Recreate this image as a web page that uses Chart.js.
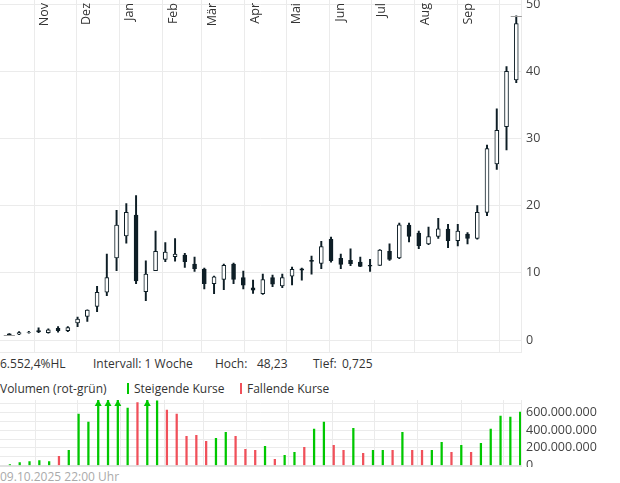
<!DOCTYPE html>
<html>
<head>
<meta charset="utf-8">
<script src="https://cdn.jsdelivr.net/npm/chart.js@4.4.1/dist/chart.umd.min.js"></script>
<style>
  body { margin: 0; width: 620px; height: 483px; overflow: hidden; background: #fff;
         font-family: "Open Sans", sans-serif; font-size: 12px; color: #333; position: relative; }
  #priceBox { position: absolute; left: 0; top: 0; width: 620px; height: 354px; }
  #volBox { position: absolute; left: 0; top: 398px; width: 620px; height: 69px; }
  .txt { position: absolute; white-space: nowrap; line-height: 16px; }
  .mark { position: absolute; width: 2px; height: 11px; }
</style>
</head>
<body>
<div id="priceBox"><canvas id="priceChart"></canvas></div>

<div class="txt" id="hlText" style="left:0;top:356px"></div>
<div class="txt" style="left:93px;top:356px">Intervall: 1 Woche</div>
<div class="txt" style="left:215px;top:356px">Hoch:</div>
<div class="txt" id="hochText" style="left:257px;top:356px"></div>
<div class="txt" style="left:313px;top:356px">Tief:</div>
<div class="txt" id="tiefText" style="left:342px;top:356px"></div>

<div class="txt" style="left:0;top:381px">Volumen (rot-grün)</div>
<div class="mark" style="left:127px;top:383px;background:#00c800"></div>
<div class="txt" style="left:134px;top:381px">Steigende Kurse</div>
<div class="mark" style="left:240px;top:383px;background:#f0505a"></div>
<div class="txt" style="left:247px;top:381px">Fallende Kurse</div>

<div id="volBox"><canvas id="volChart"></canvas></div>
<div class="txt" style="left:0;top:469px;color:#aaa">09.10.2025 22:00 Uhr</div>

<script>
// Wochenkerzen, erste Kerze = Woche ab 14.10.2024
const firstWeek = "2024-10-14";
const opens = [0.9, 0.85, 1.14, 1.4, 1.1, 1.75, 1.4, 2.55, 3.5, 5.0, 7.1, 12.2, 15.5, 18.6, 7.2, 10.3,
  12.0, 12.4, 12.65, 11.3, 10.55, 8.4, 9.0, 11.3, 9.3, 7.75, 6.9, 9.3, 8.05, 9.5, 10.6, 11.85,
  11.4, 15.0, 12.15, 11.85, 11.6, 11.1, 11.1, 13.2, 12.2, 17.1, 15.9, 14.3, 15.4, 16.5, 14.8,
  15.75, 15.1, 19.0, 26.2, 31.75, 38.7];
const highs = [0.95, 1.25, 1.3, 1.8, 1.65, 1.98, 2.0, 3.4, 4.5, 8.0, 12.8, 19.3, 20.3, 21.5, 11.8, 16.2,
  14.5, 15.1, 12.9, 12.35, 10.7, 9.5, 11.3, 11.45, 10.25, 8.9, 9.8, 9.65, 9.8, 10.85, 10.7, 12.5,
  14.7, 15.3, 12.8, 13.55, 12.35, 12.0, 13.45, 14.3, 17.4, 17.4, 16.2, 16.8, 18.1, 17.2, 17.2,
  16.0, 20.0, 29.0, 34.4, 40.7, 48.23];
const lows = [0.725, 0.8, 1.0, 1.1, 1.0, 1.15, 1.25, 2.0, 2.75, 4.2, 6.6, 10.3, 14.4, 8.4, 5.85, 10.3,
  11.65, 11.75, 10.8, 10.2, 7.6, 6.9, 7.5, 8.4, 7.6, 6.95, 6.8, 7.95, 7.8, 8.2, 8.9, 9.8,
  10.6, 11.6, 10.6, 11.05, 10.9, 10.2, 11.1, 11.85, 12.1, 14.6, 13.6, 14.2, 15.1, 13.75, 14.0,
  14.3, 15.0, 18.5, 25.4, 28.3, 38.3];
const closes = [0.75, 1.1, 1.16, 1.2, 1.5, 1.4, 1.85, 3.1, 4.45, 7.1, 9.3, 17.1, 19.0, 8.8, 9.8, 13.2,
  13.1, 12.8, 11.65, 10.6, 8.4, 9.4, 11.1, 9.0, 8.15, 7.4, 9.0, 8.3, 9.3, 10.5, 10.4, 11.7,
  13.9, 11.8, 11.25, 11.35, 10.95, 11.0, 13.4, 12.0, 17.15, 15.4, 14.05, 15.4, 16.55, 14.8, 16.2,
  15.1, 19.0, 28.5, 31.2, 40.0, 47.1];
// Volumen in Mio. Stück
const volumeMio = [11, 34, 46, 57, 46, 103, 172, 585, 493, 900, 1000, 950, 654, 715, 880, 735,
  631, 585, 333, 344, 275, 310, 378, 333, 183, 172, 218, 69, 115, 149, 206, 413,
  493, 229, 172, 424, 138, 172, 172, 172, 378, 172, 172, 172, 264, 149, 229,
  149, 252, 413, 562, 550, 608];

const monthStarts = ["2024-11-01", "2024-12-01", "2025-01-01", "2025-02-01", "2025-03-01", "2025-04-01",
  "2025-05-01", "2025-06-01", "2025-07-01", "2025-08-01", "2025-09-01", "2025-10-01"];
const monthLabels = ["Nov", "Dez", "Jan", "Feb", "Mär", "Apr", "Mai", "Jun", "Jul", "Aug", "Sep", ""];
const priceTicks = [0, 10, 20, 30, 40, 50];
const volumeTicks = [0, 100, 200, 300, 400, 500, 600, 700];

const GREEN = "#00c800";
const RED = "#f0505a";
const INK = "#0e1e26";
const GRID = "#ebebeb";

function dayOf(d) {
  return (Date.parse(d) - Date.parse(firstWeek)) / 864e5;
}
function deNum(v, digits) {
  const parts = v.toFixed(digits).split(".");
  parts[0] = parts[0].replace(/\B(?=(\d{3})+(?!\d))/g, ".");
  return parts.join(",");
}

const weekX = opens.map((_, i) => i * 7);
const hoch = Math.max(...highs);
const tief = Math.min(...lows);
document.getElementById("hochText").textContent = deNum(hoch, 2);
document.getElementById("tiefText").textContent = deNum(tief, 3);
document.getElementById("hlText").textContent = deNum((hoch / tief - 1) * 100, 1) + "%HL";

Chart.defaults.font.family = '"Open Sans", sans-serif';
Chart.defaults.font.size = 12.5;
Chart.defaults.color = "#333";
Chart.defaults.animation = false;

const monthGrid = (scale) => {
  scale.ticks = monthStarts.map((d) => ({ value: dayOf(d) }));
};
// rechte Achse: feste Breite, keine Zusatzränder für Beschriftungen
const fixRightAxis = (s) => {
  s.width = 99;
  s.paddingTop = 0;
  s.paddingBottom = 0;
};
const flatXAxis = (s) => {
  s.height = 0;
  s.paddingLeft = 0;
  s.paddingRight = 0;
};

// Monatsnamen senkrecht oben rechts neben der Gitterlinie
const monthLabelPlugin = {
  id: "monthLabels",
  beforeDatasetsDraw(chart) {
    const c = chart.ctx;
    const xs = chart.scales.x;
    c.save();
    c.font = '12.5px "Open Sans", sans-serif';
    c.fillStyle = "#333";
    c.textAlign = "right";
    c.textBaseline = "alphabetic";
    monthStarts.forEach((d, i) => {
      if (!monthLabels[i]) return;
      const px = xs.getPixelForValue(dayOf(d));
      c.save();
      c.translate(px + 14, chart.chartArea.top + 3);
      c.rotate(-Math.PI / 2);
      c.fillText(monthLabels[i], 0, 0);
      c.restore();
    });
    c.restore();
  },
  afterDatasetsDraw(chart) {
    // Markierung Hoch / Tief
    const c = chart.ctx;
    const xs = chart.scales.x, ys = chart.scales.y;
    const iH = highs.indexOf(hoch), iL = lows.indexOf(tief);
    c.save();
    c.strokeStyle = "#9a9a9a";
    c.lineWidth = 1;
    [[iH, hoch], [iL, tief]].forEach(([i, v]) => {
      const y = Math.round(ys.getPixelForValue(v)) + 0.5;
      c.beginPath();
      c.moveTo(xs.getPixelForValue(weekX[i] - 4), y);
      c.lineTo(xs.getPixelForValue(weekX[i] + 4), y);
      c.stroke();
    });
    c.restore();
  },
};

new Chart(document.getElementById("priceChart"), {
  type: "bar",
  data: {
    datasets: [
      {
        label: "Körper",
        data: weekX.map((x, i) => ({ x, y: [opens[i], closes[i]] })),
        backgroundColor: (ctx) => (closes[ctx.dataIndex] >= opens[ctx.dataIndex] ? "#fff" : INK),
        borderColor: INK,
        borderWidth: 1,
        borderSkipped: false,
        barThickness: 4,
        grouped: false,
        order: 0,
      },
      {
        label: "Docht",
        data: weekX.map((x, i) => ({ x, y: [lows[i], highs[i]] })),
        backgroundColor: INK,
        borderWidth: 0,
        barThickness: 1.3,
        grouped: false,
        order: 1,
      },
    ],
  },
  options: {
    responsive: true,
    maintainAspectRatio: false,
    layout: { padding: { top: 0, bottom: 1.5, left: 0, right: 0 } },
    plugins: { legend: { display: false }, tooltip: { enabled: false } },
    scales: {
      x: {
        type: "linear",
        offset: false,
        min: -6.7,
        max: 367.4,
        afterBuildTicks: monthGrid,
        afterFit: flatXAxis,
        ticks: { display: false },
        grid: { color: GRID, drawTicks: false, offset: false },
        border: { color: GRID },
      },
      y: {
        position: "right",
        min: -1.86,
        max: 50.6,
        afterBuildTicks: (s) => { s.ticks = priceTicks.map((v) => ({ value: v })); },
        afterFit: fixRightAxis,
        ticks: { padding: 5, color: "#444", autoSkip: false },
        grid: { color: GRID, drawTicks: false },
        border: { color: GRID },
      },
    },
  },
  plugins: [monthLabelPlugin],
});

// Pfeile für Balken, die über den Bereich hinausgehen
const overflowPlugin = {
  id: "overflowArrows",
  afterDatasetsDraw(chart) {
    const c = chart.ctx;
    const xs = chart.scales.x, ys = chart.scales.y;
    const top = chart.chartArea.top;
    c.save();
    volumeMio.forEach((v, i) => {
      if (v * 1e6 <= ys.max) return;
      const px = xs.getPixelForValue(weekX[i]);
      c.fillStyle = i === 0 || closes[i] >= closes[i - 1] ? GREEN : RED;
      c.beginPath();
      c.moveTo(px, top);
      c.lineTo(px + 3.5, top + 6);
      c.lineTo(px - 3.5, top + 6);
      c.closePath();
      c.fill();
    });
    c.restore();
  },
};

new Chart(document.getElementById("volChart"), {
  type: "bar",
  data: {
    datasets: [
      {
        label: "Volumen",
        data: weekX.map((x, i) => ({ x, y: volumeMio[i] * 1e6 })),
        backgroundColor: (ctx) => {
          const i = ctx.dataIndex;
          return i === 0 || closes[i] >= closes[i - 1] ? GREEN : RED;
        },
        borderWidth: 0,
        barThickness: 1.6,
      },
    ],
  },
  options: {
    responsive: true,
    maintainAspectRatio: false,
    layout: { padding: { top: 2, bottom: 1.5, left: 0, right: 0 } },
    plugins: { legend: { display: false }, tooltip: { enabled: false } },
    scales: {
      x: {
        type: "linear",
        offset: false,
        min: -7.06,
        max: 364.6,
        afterBuildTicks: monthGrid,
        afterFit: flatXAxis,
        ticks: { display: false },
        grid: { color: GRID, drawTicks: false, offset: false },
        border: { color: "#e2e2e2", width: 2 },
      },
      y: {
        position: "right",
        min: 0,
        max: 745e6,
        afterBuildTicks: (s) => { s.ticks = volumeTicks.map((v) => ({ value: v * 1e6 })); },
        afterFit: fixRightAxis,
        ticks: {
          padding: 5,
          color: "#444",
          autoSkip: false,
          callback: (v) => (v % 200e6 === 0 ? deNum(v, 0) : ""),
        },
        grid: { color: GRID, drawTicks: false },
        border: { color: GRID },
      },
    },
  },
  plugins: [overflowPlugin],
});
</script>
</body>
</html>
